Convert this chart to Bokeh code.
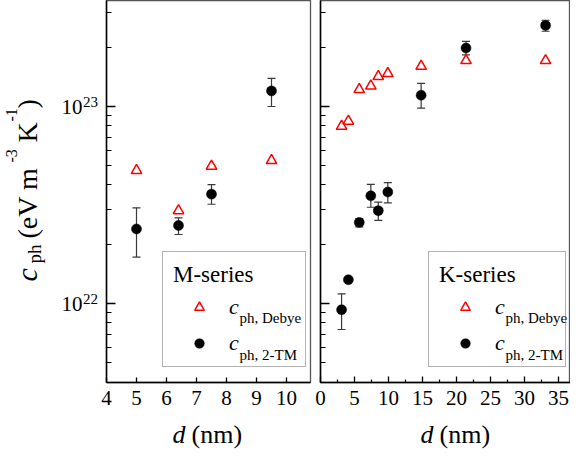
import math
from bokeh.plotting import figure
from bokeh.models import (Range1d, FixedTicker, Whisker, TeeHead, ColumnDataSource,
                          Label, Legend, LegendItem, CustomJSTickFormatter)
from bokeh.layouts import row, column
from bokeh.embed import file_html
from bokeh.resources import INLINE
from bokeh.core.properties import value

# ---------------- data ----------------
m_d = [5.0, 6.4, 7.5, 9.5]
m_debye = [4.73e22, 2.96e22, 4.98e22, 5.32e22]
m_tm = [2.39e22, 2.49e22, 3.59e22, 1.20e23]
m_tm_lo = [1.72e22, 2.24e22, 3.19e22, 1.00e23]
m_tm_hi = [3.06e22, 2.72e22, 4.01e22, 1.39e23]

k_d = [3.1, 4.1, 5.7, 7.4, 8.5, 9.9, 14.8, 21.4, 33.1]
k_debye = [7.94e22, 8.42e22, 1.22e23, 1.27e23, 1.42e23, 1.47e23, 1.60e23, 1.71e23, 1.71e23]
k_tm = [9.29e21, 1.32e22, 2.58e22, 3.52e22, 2.96e22, 3.68e22, 1.14e23, 1.98e23, 2.58e23]
k_tm_lo = [7.38e21, 1.32e22, 2.45e22, 3.08e22, 2.64e22, 3.24e22, 9.8e22, 1.83e23, 2.41e23]
k_tm_hi = [1.12e22, 1.32e22, 2.70e22, 4.02e22, 3.27e22, 4.11e22, 1.31e23, 2.14e23, 2.74e23]

m_xticks = [4, 5, 6, 7, 8, 9, 10]
k_xticks = [0, 5, 10, 15, 20, 25, 30, 35]
k_xminor = [2.5, 7.5, 12.5, 17.5, 22.5, 27.5, 32.5]
y_major = [1e22, 1e23]
y_minor = [5e21, 6e21, 7e21, 8e21, 9e21,
           2e22, 3e22, 4e22, 5e22, 6e22, 7e22, 8e22, 9e22,
           2e23, 3e23]
series_names = ["M-series", "K-series"]
legend_main = "c"
legend_subs = ["ph, Debye", "ph, 2-TM"]

# ---------------- layout constants (canvas pixels) ----------------
FONT = "Liberation Serif"
MID = 0.3375                         # baseline -> box middle, in em
W_TOTAL, H_TOTAL = 570, 450
TOP_H = 416
FRAME_TOP, FRAME_BOT = 0, 382
Y_LO, Y_HI = 21.599, 23.538
DEC = (FRAME_BOT - FRAME_TOP) / (Y_HI - Y_LO)
YLAB_W = 98
L_FRAME_L, L_FRAME_R = 106, 310
R_FRAME_L, R_FRAME_R = 320, 570
R_SCALE = 6.8


def Y(py):
    return 10 ** (Y_LO + (FRAME_BOT - py) / DEC)


def py_of(v):
    return FRAME_BOT - (math.log10(v) - Y_LO) * DEC


def LX(px):
    return 4 + (px - L_FRAME_L) / 30.0


def RX(px):
    return (px - R_FRAME_L) / R_SCALE


def lab(p, fx, fy, px, py, text, size, style="normal", align="left",
        rotated=False, font=FONT):
    """Place text whose baseline starts at canvas pixel (px, py)."""
    if rotated:
        ax, ay, ang = px - MID * size, py, math.pi / 2
    else:
        ax, ay, ang = px, py - MID * size, 0.0
    p.add_layout(Label(x=fx(ax), y=fy(ay), text=text, text_font=font,
                       text_font_size=f"{size}px", text_font_style=style,
                       text_align=align, text_baseline="middle",
                       angle=ang, text_color="black"))


def blank_fig(width, height):
    p = figure(frame_width=width, frame_height=height, x_range=Range1d(0, width),
               y_range=Range1d(0, height), x_axis_location=None,
               y_axis_location=None, output_backend="svg", title=None,
               toolbar_location=None, min_border=0,
               min_border_left=0, min_border_right=0,
               min_border_top=0, min_border_bottom=0)
    p.grid.visible = False
    p.outline_line_color = None
    p.background_fill_color = "white"
    p.border_fill_color = "white"
    return p


def make_panel(width, xr, bl, br, xticks, xminor, xtick_len):
    p = figure(width=width, height=TOP_H, x_range=Range1d(*xr),
               y_range=Range1d(10 ** Y_LO, 10 ** Y_HI), y_axis_type="log",
               output_backend="svg", toolbar_location=None, title=None,
               min_border_left=bl, min_border_right=br,
               min_border_top=FRAME_TOP, min_border_bottom=TOP_H - FRAME_BOT)
    p.xgrid.visible = False
    p.ygrid.visible = False
    p.background_fill_color = "white"
    p.border_fill_color = "white"
    p.outline_line_color = "#555555"
    p.outline_line_width = 1.3

    xa = p.xaxis[0]
    xa.ticker = FixedTicker(ticks=xticks, minor_ticks=xminor)
    xa.axis_line_color = "black"
    xa.axis_line_width = 1.5
    xa.major_tick_in = xtick_len
    xa.major_tick_out = 0
    xa.minor_tick_in = 3
    xa.minor_tick_out = 0
    xa.major_tick_line_color = "black"
    xa.minor_tick_line_color = "black"
    xa.major_tick_line_width = 1.3
    xa.minor_tick_line_width = 1.2
    xa.major_label_text_font = FONT
    xa.major_label_text_font_size = "21px"
    xa.major_label_text_color = "black"
    xa.major_label_standoff = 8

    ya = p.yaxis[0]
    ya.ticker = FixedTicker(ticks=y_major, minor_ticks=y_minor)
    ya.formatter = CustomJSTickFormatter(code="return ''")
    ya.axis_line_color = "black"
    ya.axis_line_width = 1.5
    ya.major_tick_in = 9
    ya.major_tick_out = 0
    ya.minor_tick_in = 5
    ya.minor_tick_out = 0
    ya.major_tick_line_color = "black"
    ya.minor_tick_line_color = "black"
    ya.major_tick_line_width = 1.3
    ya.minor_tick_line_width = 1.2
    ya.major_label_standoff = 0
    return p


def add_series(p, d, debye, tm, lo, hi, title, pxfn, frame_left, box_left, label_w):
    wd = [x for x, a, b in zip(d, lo, hi) if b > a]
    wl = [a for a, b in zip(lo, hi) if b > a]
    wh = [b for a, b in zip(lo, hi) if b > a]
    src = ColumnDataSource(dict(x=wd, lower=wl, upper=wh))
    w = Whisker(source=src, base="x", lower="lower", upper="upper",
                dimension="height", line_color="#3a3a3a", line_width=1.2,
                level="underlay")
    w.upper_head = TeeHead(size=8, line_color="#3a3a3a", line_width=1.2)
    w.lower_head = TeeHead(size=8, line_color="#3a3a3a", line_width=1.2)
    p.add_layout(w)

    r_tri = p.scatter(d, debye, marker="triangle", size=10.5, fill_color=None,
                      line_color="#ff0000", line_width=1.5)
    r_cir = p.scatter(d, tm, marker="circle", size=10, fill_color="black",
                      line_color="black", line_width=0.5)

    leg = Legend(items=[LegendItem(label=value(legend_main), renderers=[r_tri]),
                        LegendItem(label=value(legend_main), renderers=[r_cir])],
                 location=(box_left - frame_left, FRAME_BOT - 367),
                 title=title, title_text_font=FONT, title_text_font_size="23px",
                 title_text_font_style="normal", title_text_color="black",
                 title_standoff=6,
                 label_text_font=FONT, label_text_font_size="22px",
                 label_text_font_style="italic", label_text_color="black",
                 glyph_width=52, glyph_height=24, label_height=24, label_width=label_w,
                 label_standoff=4, padding=10, spacing=10, margin=0,
                 border_line_color="#666666", border_line_width=1.2,
                 background_fill_alpha=0.0)
    p.add_layout(leg, "center")

    sub_x = box_left + 66 + 11
    lab(p, pxfn, Y, sub_x, 323, legend_subs[0], 15)
    lab(p, pxfn, Y, sub_x, 360, legend_subs[1], 15)


# ---------------- y-label strip ----------------
py_strip = blank_fig(YLAB_W, TOP_H)


def SX(px):
    return px


def SY(py):
    return TOP_H - py


for t in y_major:
    pyt = py_of(t)
    lab(py_strip, SX, SY, 82, pyt + 8, "10", 21, align="right")
    lab(py_strip, SX, SY, 82.5, pyt + 0.5, str(int(round(math.log10(t)))), 15)

lab(py_strip, SX, SY, 36, 281, "c", 30, style="italic", rotated=True)
lab(py_strip, SX, SY, 40.5, 263, "ph", 19, rotated=True)
lab(py_strip, SX, SY, 36, 238, "(eV m", 28, rotated=True)
lab(py_strip, SX, SY, 16, 162, "-3", 16, rotated=True)
lab(py_strip, SX, SY, 36, 142, "K", 28, rotated=True)
lab(py_strip, SX, SY, 16, 121, "-1", 16, rotated=True)
lab(py_strip, SX, SY, 36, 108, ")", 28, rotated=True)

# ---------------- left panel (M-series) ----------------
pl = make_panel(314 - YLAB_W, (4, 4 + (L_FRAME_R - L_FRAME_L) / 30.0),
                L_FRAME_L - YLAB_W, 314 - L_FRAME_R, m_xticks, [], 5)
add_series(pl, m_d, m_debye, m_tm, m_tm_lo, m_tm_hi, series_names[0], LX,
           L_FRAME_L, 162, 66)

# ---------------- right panel (K-series) ----------------
pr = make_panel(W_TOTAL - 314, (0, (R_FRAME_R - R_FRAME_L) / R_SCALE),
                R_FRAME_L - 314, 0, k_xticks, k_xminor, 6)
add_series(pr, k_d, k_debye, k_tm, k_tm_lo, k_tm_hi, series_names[1], RX,
           R_FRAME_L, 428, 60)

# ---------------- x-label strip ----------------
bot = blank_fig(W_TOTAL, H_TOTAL - TOP_H)


def BX(px):
    return px


def BY(py):
    return H_TOTAL - py


lab(bot, BX, BY, 172, 443, "d", 26, style="italic")
lab(bot, BX, BY, 191, 443, "(nm)", 26)
lab(bot, BX, BY, 420, 443, "d", 26, style="italic")
lab(bot, BX, BY, 439, 443, "(nm)", 26)

layout = column(row(py_strip, pl, pr), bot)
open("out.html", "w").write(file_html(layout, INLINE))
